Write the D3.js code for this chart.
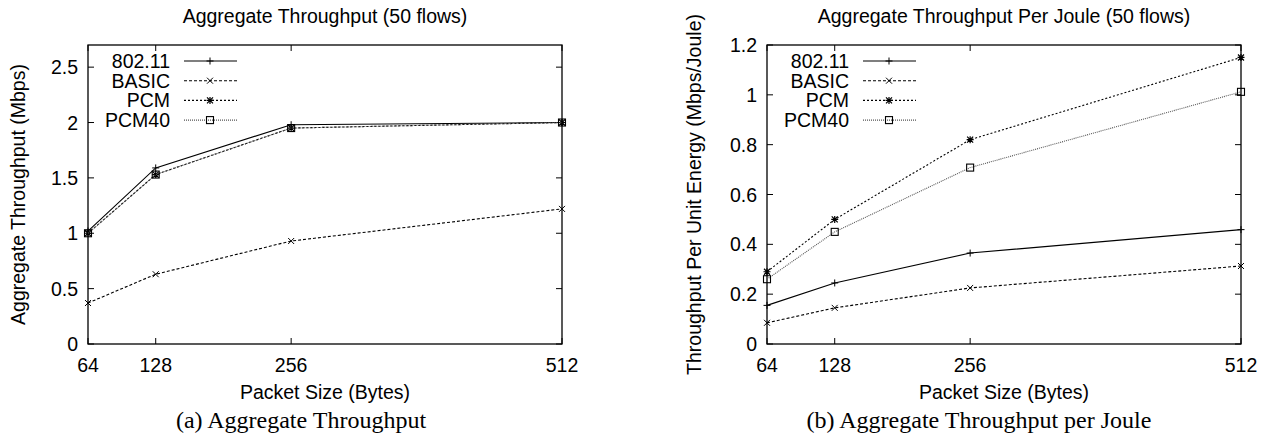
<!DOCTYPE html>
<html>
<head>
<meta charset="utf-8">
<title>throughput</title>
<script src="https://d3js.org/d3.v7.min.js"></script>
<style>
  html, body { margin: 0; padding: 0; background: #fff; }
  svg { font-family: 'Liberation Sans', Arial, sans-serif; }
  .cap { font-family: 'Liberation Serif', 'Times New Roman', serif; }
</style>
</head>
<body>
<div id="chart"></div>
<script>
// packet sizes (bytes)
const sizes = [64, 128, 256, 512]
const seriesNames = ['802.11', 'BASIC', 'PCM', 'PCM40']

// (a) aggregate throughput, Mbps
const thr80211 = [1.02, 1.59, 1.98, 2.0]
const thrBasic = [0.37, 0.63, 0.93, 1.22]
const thrPcm = [1.0, 1.53, 1.95, 2.0]
const thrPcm40 = [1.0, 1.53, 1.95, 2.0]

// (b) throughput per joule, Mbps/Joule
const pj80211 = [0.155, 0.245, 0.365, 0.459]
const pjBasic = [0.085, 0.145, 0.225, 0.313]
const pjPcm = [0.29, 0.50, 0.82, 1.15]
const pjPcm40 = [0.26, 0.45, 0.708, 1.012]

const yTicksA = [0, 0.5, 1, 1.5, 2, 2.5]
const yTicksB = [0, 0.2, 0.4, 0.6, 0.8, 1, 1.2]

const W = 1269, H = 441
const FS = 19.5
const svg = d3.select('#chart').append('svg')
  .attr('width', W).attr('height', H)

// line style per series
const styles = {
  '802.11': { dash: null, color: '#000', mark: 'plus' },
  'BASIC': { dash: '3,2', color: '#000', mark: 'cross' },
  'PCM': { dash: '2,2', color: '#000', mark: 'star' },
  'PCM40': { dash: '1,1', color: '#555', mark: 'square' }
}

function marker(g, type, x, y) {
  const s = 3.5
  if (type == 'plus') {
    g.append('path').attr('d', `M${x-s},${y}H${x+s}M${x},${y-s}V${y+s}`)
      .attr('stroke', '#000').attr('stroke-width', 1)
  } else if (type == 'cross') {
    g.append('path').attr('d', `M${x-3},${y-3}L${x+3},${y+3}M${x-3},${y+3}L${x+3},${y-3}`)
      .attr('stroke', '#000').attr('stroke-width', 1)
  } else if (type == 'star') {
    g.append('path').attr('d', `M${x-3},${y-3}L${x+3},${y+3}M${x-3},${y+3}L${x+3},${y-3}M${x-s},${y}H${x+s}M${x},${y-s}V${y+s}`)
      .attr('stroke', '#000').attr('stroke-width', 1.2)
  } else {
    g.append('rect').attr('x', x - 3.5).attr('y', y - 3.5).attr('width', 7).attr('height', 7)
      .attr('fill', 'none').attr('stroke', '#000').attr('stroke-width', 1.1)
  }
}

function panel(opt) {
  const g = svg.append('g')
  const x = d3.scaleLinear().domain([64, 512]).range([opt.left, opt.right])
  const y = d3.scaleLinear().domain([0, opt.ymax]).range([344, 45])

  // frame
  g.append('rect').attr('x', opt.left).attr('y', 45)
    .attr('width', opt.right - opt.left).attr('height', 299)
    .attr('fill', 'none').attr('stroke', '#000').attr('stroke-width', 1.3)

  // ticks (inward, mirrored)
  for (const t of opt.yTicks) {
    g.append('path').attr('d', `M${opt.left},${y(t)}h6M${opt.right},${y(t)}h-6`)
      .attr('stroke', '#000')
    g.append('text').attr('x', opt.left - 10).attr('y', y(t) + 7)
      .attr('text-anchor', 'end').attr('font-size', FS).text(t)
  }
  for (const t of sizes) {
    g.append('path').attr('d', `M${x(t)},344v-6M${x(t)},45v6`).attr('stroke', '#000')
    g.append('text').attr('x', x(t)).attr('y', 372)
      .attr('text-anchor', 'middle').attr('font-size', FS).text(t)
  }

  // titles
  const cx = (opt.left + opt.right) / 2
  g.append('text').attr('x', cx).attr('y', 23).attr('text-anchor', 'middle')
    .attr('font-size', FS).text(opt.title)
  g.append('text').attr('x', cx).attr('y', 399).attr('text-anchor', 'middle')
    .attr('font-size', FS).text('Packet Size (Bytes)')
  g.append('text').attr('transform', `translate(${opt.ytx},194.5) rotate(-90)`)
    .attr('text-anchor', 'middle').attr('font-size', FS).text(opt.ytitle)
  g.append('text').attr('class', 'cap').attr('x', opt.capx).attr('y', 428)
    .attr('text-anchor', 'middle').attr('font-size', 24).text(opt.caption)

  // lines
  const line = d3.line().x((d, i) => x(sizes[i])).y(d => y(d))
  opt.data.forEach((vals, k) => {
    const st = styles[seriesNames[k]]
    g.append('path').attr('d', line(vals)).attr('fill', 'none')
      .attr('stroke', st.color).attr('stroke-width', 1.1)
      .attr('stroke-dasharray', st.dash)
    vals.forEach((v, i) => marker(g, st.mark, x(sizes[i]), y(v)))
  })

  // legend
  seriesNames.forEach((n, k) => {
    const st = styles[n]
    const ly = 61 + k * 19.7
    g.append('text').attr('x', opt.left + 82).attr('y', ly + 7)
      .attr('text-anchor', 'end').attr('font-size', FS).text(n)
    g.append('path').attr('d', `M${opt.left + 96},${ly}h53`).attr('stroke', st.color)
      .attr('stroke-width', 1.1).attr('stroke-dasharray', st.dash)
    marker(g, st.mark, opt.left + 122, ly)
  })
}

panel({
  left: 88, right: 562, ymax: 2.7, yTicks: yTicksA,
  title: 'Aggregate Throughput (50 flows)',
  ytitle: 'Aggregate Throughput (Mbps)', ytx: 25,
  caption: '(a) Aggregate Throughput', capx: 301,
  data: [thr80211, thrBasic, thrPcm, thrPcm40]
})

panel({
  left: 767, right: 1241, ymax: 1.2, yTicks: yTicksB,
  title: 'Aggregate Throughput Per Joule (50 flows)',
  ytitle: 'Throughput Per Unit Energy (Mbps/Joule)', ytx: 701,
  caption: '(b) Aggregate Throughput per Joule', capx: 979,
  data: [pj80211, pjBasic, pjPcm, pjPcm40]
})
</script>
</body>
</html>
